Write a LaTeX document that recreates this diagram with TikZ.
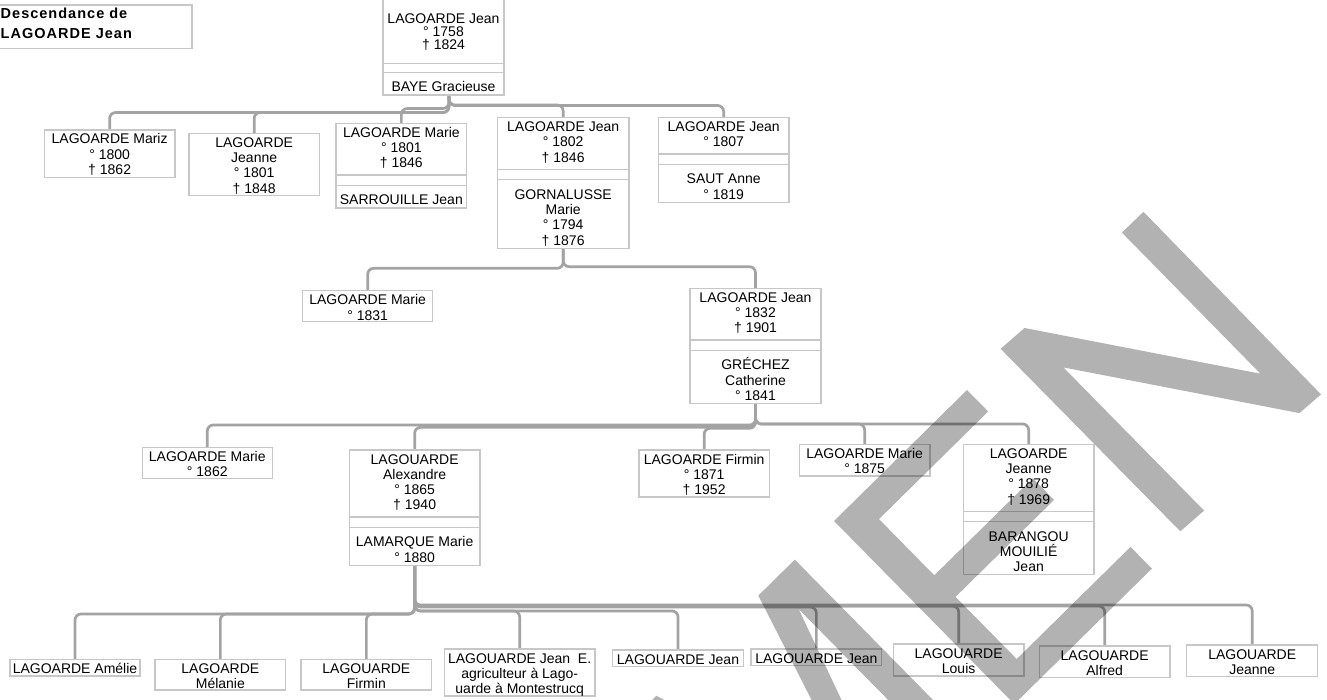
\documentclass[tikz,border=0pt]{standalone}
\usepackage{fontspec}
\setmainfont{Liberation Sans}
\newfontfamily\titlefont[LetterSpace=7]{Liberation Sans}
\definecolor{boxc}{gray}{0.78}
\definecolor{connc}{gray}{0.64}
\newcommand\pbox[5]{\node[pbox, minimum width=#4pt, minimum height=#5pt] (#1) at (#2,#3) {};}
\newcommand\plines[4]{\foreach \t [count=\i from 0] in {#4}{\node[txt, yshift={-(5+\i*15.3)*1pt}] (#3-\i) at (#1.north |- 0,#2) {\t};}}
\newcommand\rlines[4]{\foreach \t [count=\i from 0] in {#4}{\node[txt, yshift={-(5+\i*13)*1pt}] (#3-\i) at (#1.north |- 0,#2) {\t};}}
\newcommand\sepat[2]{\draw[sepl] (#1.west |- 0,#2) -- (#1.east |- 0,#2);}
\newcommand\link[3]{\draw[conn] (#1) -- (#1 |- 0,#3) -- (#2.north |- 0,#3) -- (#2.north);}
\begin{document}
\begin{tikzpicture}[x=1pt,y=-1pt,
  pbox/.style={draw=boxc, line width=1.3pt, fill=white, inner sep=0pt, outer sep=0pt, anchor=north west},
  txt/.style={font=\fontsize{14}{16}\selectfont, anchor=base, inner sep=0pt, text=black},
  conn/.style={draw=connc, line width=2.7pt, rounded corners=6pt},
  sepl/.style={draw=boxc, line width=1.3pt},
  wm/.style={fill=black, fill opacity=0.3, draw=none}]
\useasboundingbox[fill=white] (0,0) rectangle (1327,700);

% ---------- boxes (positions) ----------
\pbox{title}{-10}{5}{202}{43.3}
\pbox{root}{383}{-10}{121}{105}
\coordinate (rootc) at (449,95);
% generation 2
\pbox{mariz}{44.3}{130}{130.7}{47.3}
\pbox{jeanneA}{189}{133.3}{130.3}{62.4}
\pbox{marieA}{336}{123.3}{130.7}{84.6}
\pbox{jeanA}{497.3}{117.7}{131.7}{130.5}
\pbox{jeanB}{658.3}{117.7}{130.7}{84.6}
% generation 3
\pbox{marieB}{302.7}{290.7}{130}{31}
\pbox{jeanC}{690}{288.3}{131}{115.2}
% generation 4
\pbox{marieC}{142.3}{447.3}{130}{31}
\pbox{alex}{349.3}{450}{130.7}{115.2}
\pbox{firminA}{639}{450}{130.3}{47}
\pbox{marieD}{799.3}{444.3}{130.7}{31.7}
\pbox{jeanneB}{963.3}{444.3}{130.7}{130.5}
% generation 5
\pbox{amelie}{10}{659.3}{130}{16.7}
\pbox{melanie}{155}{659.3}{130.7}{30.7}
\pbox{firminB}{301}{659.3}{130.7}{30.7}
\pbox{jeanE}{444.3}{649}{150.7}{47}
\pbox{jeanF}{612.7}{650}{130.6}{16.7}
\pbox{jeanG}{751}{649}{130.7}{16.3}
\pbox{louis}{893.3}{644}{130.7}{32}
\pbox{alfred}{1039.3}{646}{130.7}{31.3}
\pbox{jeanneC}{1186.7}{645}{131}{31.7}

% ---------- connectors ----------
\link{rootc}{mariz}{112.5}
\link{rootc}{jeanneA}{112.5}
\link{rootc}{marieA}{108.5}
\link{rootc}{jeanA}{105}
\link{rootc}{jeanB}{105.5}
\link{jeanA.south}{marieB}{268.3}
\link{jeanA.south}{jeanC}{266.7}
\link{jeanC.south}{marieC}{425}
\link{jeanC.south}{alex}{427.3}
\link{jeanC.south}{firminA}{428.3}
\link{jeanC.south}{marieD}{424}
\link{jeanC.south}{jeanneB}{424}
\link{alex.south}{amelie}{614}
\link{alex.south}{melanie}{614}
\link{alex.south}{firminB}{614}
\link{alex.south}{jeanE}{611}
\link{alex.south}{jeanF}{611}
\link{alex.south}{jeanG}{607}
\link{alex.south}{louis}{606}
\link{alex.south}{alfred}{606}
\link{alex.south}{jeanneC}{605}

% redraw boxes on top of connectors
\foreach \b in {root,mariz,jeanneA,marieA,jeanA,jeanB,marieB,jeanC,marieC,alex,firminA,marieD,jeanneB,amelie,melanie,firminB,jeanE,jeanF,jeanG,louis,alfred,jeanneC}{
  \draw[boxc, line width=1.3pt, fill=white] (\b.north west) rectangle (\b.south east);}

% ---------- title ----------
\node[font=\titlefont\fontsize{14.5}{16}\selectfont\bfseries, anchor=base west, inner sep=0pt] (t1) at (0.5,19) {Descendance de};
\node[font=\titlefont\fontsize{14.5}{16}\selectfont\bfseries, anchor=base west, inner sep=0pt] (t2) at (0.5,39) {LAGOARDE Jean};

% ---------- texts and separators ----------
\rlines{root}{19}{rt}{LAGOARDE Jean, ° 1758, † 1824}
\sepat{root}{63.5}\sepat{root}{72.7}
\plines{root}{87}{rs}{BAYE Gracieuse}

\plines{mariz}{139}{mz}{LAGOARDE Mariz, ° 1800, † 1862}
\plines{jeanneA}{142.3}{ja}{LAGOARDE, Jeanne, ° 1801, † 1848}
\plines{marieA}{132.3}{ma}{LAGOARDE Marie, ° 1801, † 1846}
\sepat{marieA}{174.9}\sepat{marieA}{185.4}
\plines{marieA}{199.9}{mas}{SARROUILLE Jean}
\plines{jeanA}{126.7}{jna}{LAGOARDE Jean, ° 1802, † 1846}
\sepat{jeanA}{169.3}\sepat{jeanA}{179.8}
\plines{jeanA}{194.3}{jnas}{GORNALUSSE, Marie, ° 1794, † 1876}
\plines{jeanB}{126.7}{jnb}{LAGOARDE Jean, ° 1807}
\sepat{jeanB}{154}\sepat{jeanB}{164.5}
\plines{jeanB}{179}{jnbs}{SAUT Anne, ° 1819}

\plines{marieB}{299.7}{mb}{LAGOARDE Marie, ° 1831}
\plines{jeanC}{297.3}{jnc}{LAGOARDE Jean, ° 1832, † 1901}
\sepat{jeanC}{339.9}\sepat{jeanC}{350.4}
\plines{jeanC}{364.9}{jncs}{GRÉCHEZ, Catherine, ° 1841}

\plines{marieC}{456.3}{mc}{LAGOARDE Marie, ° 1862}
\plines{alex}{459}{al}{LAGOUARDE, Alexandre, ° 1865, † 1940}
\sepat{alex}{516.9}\sepat{alex}{527.4}
\plines{alex}{541.9}{als}{LAMARQUE Marie, ° 1880}
\plines{firminA}{459}{fa}{LAGOARDE Firmin, ° 1871, † 1952}
\plines{marieD}{453.3}{md}{LAGOARDE Marie, ° 1875}
\plines{jeanneB}{453.3}{jb}{LAGOARDE, Jeanne, ° 1878, † 1969}
\sepat{jeanneB}{511.2}\sepat{jeanneB}{521.7}
\plines{jeanneB}{536.2}{jbs}{BARANGOU, MOUILIÉ, Jean}

\plines{amelie}{668.3}{am}{LAGOARDE Amélie}
\plines{melanie}{668.3}{me}{LAGOARDE, Mélanie}
\plines{firminB}{668.3}{fb}{LAGOUARDE, Firmin}
\plines{jeanE}{658}{je}{LAGOUARDE Jean~~E., agriculteur à Lago-, uarde à Montestrucq}
\plines{jeanF}{659}{jf}{LAGOUARDE Jean}
\plines{jeanG}{658}{jg}{LAGOUARDE Jean}
\plines{louis}{653}{lo}{LAGOUARDE, Louis}
\plines{alfred}{655}{af}{LAGOUARDE, Alfred}
\plines{jeanneC}{654}{jc}{LAGOUARDE, Jeanne}

% ---------- watermark ----------
% N
\fill[wm] (1143.5,211.8) -- (1321,394.4) -- (1299.4,413.1) -- (1063.4,367.4) -- (1204.1,510.6) -- (1180.3,531.3) -- (1000.6,348.8) -- (1024.5,328) -- (1260.4,373.7) -- (1121.9,232.6) -- cycle;
% E
\fill[wm] (834,521) -- (967,390) -- (988.2,411.5) -- (879,519.1) -- (934.3,575.3) -- (1032.8,478.3) -- (1054,499.9) -- (955.5,596.9) -- (1016.7,659) -- (1130.5,546.9) -- (1151.9,568.6) -- (1014.3,704.1) -- cycle;
% M
\fill[wm] (620.1,731.6) -- (656.4,695.8) -- (865.4,805.4) -- (758.3,595.6) -- (794.8,559.6) -- (975.1,742.7) -- (952.3,765.1) -- (798.7,609.1) -- (897.6,819) -- (878.4,837.9) -- (669.8,736.1) -- (650,760) -- cycle;
\end{tikzpicture}
\end{document}
